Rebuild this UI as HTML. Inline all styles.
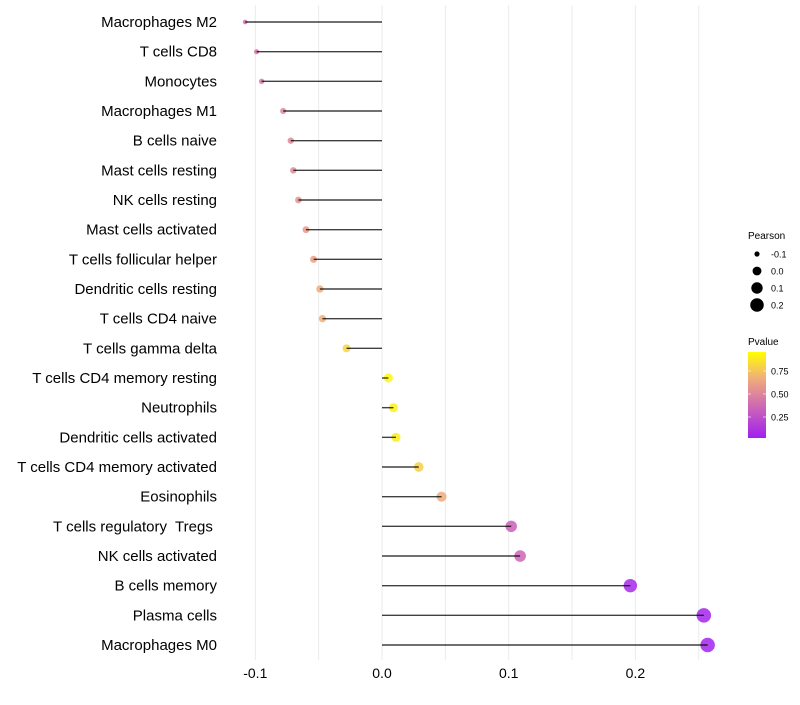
<!DOCTYPE html>
<html><head><meta charset="utf-8"><style>
body{margin:0;background:#fff;font-family:"Liberation Sans",sans-serif}
text{white-space:pre}
</style></head><body>
<svg id="c" width="800" height="700" xmlns="http://www.w3.org/2000/svg"></svg>
<script>
const categories=["Macrophages M2","T cells CD8","Monocytes","Macrophages M1","B cells naive","Mast cells resting","NK cells resting","Mast cells activated","T cells follicular helper","Dendritic cells resting","T cells CD4 naive","T cells gamma delta","T cells CD4 memory resting","Neutrophils","Dendritic cells activated","T cells CD4 memory activated","Eosinophils","T cells regulatory  Tregs ","NK cells activated","B cells memory","Plasma cells","Macrophages M0"];
const pearson=[-0.108,-0.099,-0.095,-0.078,-0.072,-0.070,-0.066,-0.060,-0.054,-0.049,-0.047,-0.028,0.005,0.009,0.011,0.029,0.047,0.102,0.109,0.196,0.254,0.257];
const pvalue=[0.40,0.42,0.44,0.52,0.53,0.54,0.57,0.60,0.63,0.68,0.70,0.84,0.97,0.95,0.94,0.82,0.68,0.33,0.35,0.05,0.02,0.02];
const xTicks=[-0.1,0.0,0.1,0.2];
const xTickLabels=["-0.1","0.0","0.1","0.2"];
const sizeLegendVals=[-0.1,0.0,0.1,0.2];
const sizeLegendLabels=["-0.1","0.0","0.1","0.2"];
const colorLegendVals=[0.25,0.5,0.75];
const colorLegendLabels=["0.25","0.50","0.75"];

const NS="http://www.w3.org/2000/svg";
const svg=document.getElementById('c');
function mk(t,a,p){const e=document.createElementNS(NS,t);for(const k in a)e.setAttribute(k,a[k]);(p||svg).appendChild(e);return e;}
const x=v=>382+v*1267;
const y=i=>22+i*29.667;
const rad=v=>Math.sqrt(Math.max(2,19.6+130*v));
const stops=[[0,[160,32,240]],[0.4,[210,110,175]],[0.7,[240,175,120]],[1,[255,255,0]]];
function col(p){for(let i=1;i<stops.length;i++){if(p<=stops[i][0]){const a=stops[i-1],b=stops[i],t=(p-a[0])/(b[0]-a[0]);const c=a[1].map((v,k)=>Math.round(v+(b[1][k]-v)*t));return `rgb(${c})`;}}return 'rgb(255,255,0)';}
for(let v=-0.1;v<=0.251;v+=0.05){const g=mk('line',{x1:x(v),x2:x(v),y1:5,y2:660,stroke:'#ebebeb','stroke-width':1});

}
categories.forEach((c,i)=>{
 const pt=mk('circle',{cx:x(pearson[i]),cy:y(i),r:rad(pearson[i]),fill:col(pvalue[i]),'fill-opacity':0.85});
 
 
 const ln=mk('line',{x1:x(0),x2:x(pearson[i]),y1:y(i),y2:y(i),stroke:'#000','stroke-width':1.4,'stroke-opacity':0.75});
 
 
 const t=mk('text',{x:217,y:y(i)+5,'text-anchor':'end','font-size':15,fill:'#000'});t.textContent=c;
 
 
});
xTicks.forEach((v,i)=>{const t=mk('text',{x:x(v),y:678,'text-anchor':'middle','font-size':14,fill:'#000'});t.textContent=xTickLabels[i];
 
 });
let t=mk('text',{x:748,y:239,'font-size':10});t.textContent='Pearson';


sizeLegendVals.forEach((v,i)=>{const cy=254+i*17;
 const cc=mk('circle',{cx:757,cy:cy,r:rad(v),fill:'#000'});
 
 
 const tt=mk('text',{x:771,y:cy+3.5,'font-size':9});tt.textContent=sizeLegendLabels[i];
 
 });
t=mk('text',{x:748,y:345,'font-size':10});t.textContent='Pvalue';


const defs=mk('defs',{});const lg=mk('linearGradient',{id:'g',x1:0,y1:1,x2:0,y2:0},defs);
stops.forEach(s=>mk('stop',{offset:s[0],'stop-color':col(s[0])},lg));
const bar=mk('rect',{x:748,y:352,width:18,height:86,fill:'url(#g)'});


const cy=p=>440-p*92;
colorLegendVals.forEach((v,i)=>{
 mk('line',{x1:748,x2:751,y1:cy(v),y2:cy(v),stroke:'#fff','stroke-opacity':0.6});
 mk('line',{x1:763,x2:766,y1:cy(v),y2:cy(v),stroke:'#fff','stroke-opacity':0.6});
 const tt=mk('text',{x:771,y:cy(v)+3.5,'font-size':9});tt.textContent=colorLegendLabels[i];
 
 });
</script>
</body></html>
